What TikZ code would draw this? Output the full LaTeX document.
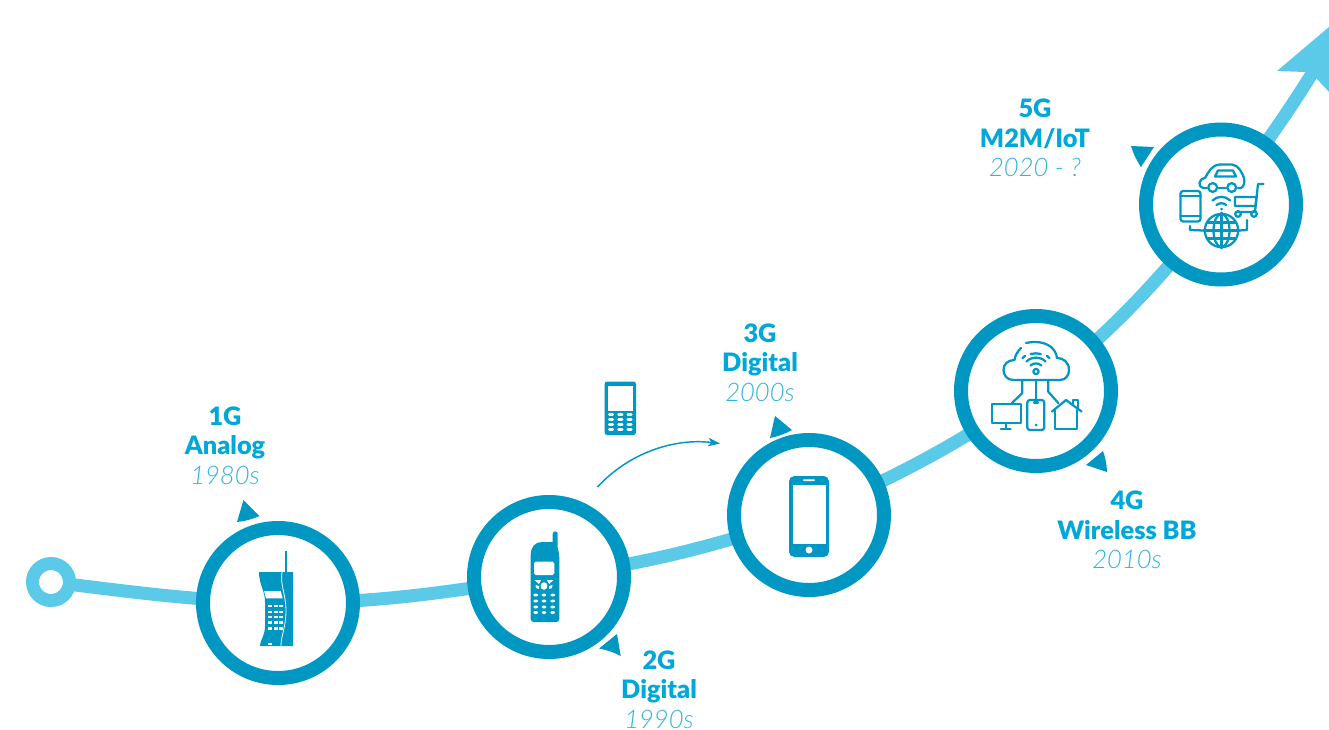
\documentclass[tikz,border=0pt]{standalone}
\usepackage{fontspec}
\setmainfont{Lato}
\newfontfamily\headfont{Lato Black}
\newfontfamily\yearfont{Lato Light Italic}
\usetikzlibrary{arrows.meta,backgrounds}
\definecolor{ringblue}{HTML}{0097C3}
\definecolor{trackblue}{HTML}{5BC9E8}
\definecolor{headblue}{HTML}{00A8DA}
\definecolor{yearblue}{HTML}{2FB4DE}
\tikzset{
	genring/.style = {shape=circle, draw=ringblue, line width=10.5pt, fill=white,
		inner sep=0pt, outer sep=0pt, minimum size=112.5pt},
	track/.style = {draw=trackblue, line width=9.75pt},
	startring/.style = {shape=circle, draw=trackblue, line width=9.75pt, fill=white,
		inner sep=0pt, outer sep=0pt, minimum size=27.75pt},
	genlabel/.style = {align=center, inner sep=0pt, text=headblue,
		font=\fontsize{19}{22}\selectfont\headfont},
	pointer/.style = {fill=ringblue, draw=none},
	icon/.style = {draw=ringblue, line width=1.7pt, line cap=round, line join=round},
	solidicon/.style = {fill=ringblue, draw=none},
	key/.style = {fill=white, draw=none}
}
\newcommand{\yeartext}[1]{{\fontsize{19.2}{22}\yearfont\color{yearblue}#1}}
\begin{document}
\begin{tikzpicture}[x=0.75pt,y=-0.75pt]
	\useasboundingbox (0,0) rectangle (1329,729);
	\node[startring] (gstart) at (51,582) {};
	\node[genring] (gone) at (278,603) {};
	\node[genring] (gtwo) at (549,577) {};
	\node[genring] (gthree) at (809,515) {};
	\node[genring] (gfour) at (1036,391) {};
	\node[genring] (gfive) at (1221,204.5) {};
	\coordinate (tipbase) at (1313,72);
	\begin{scope}[on background layer]
		\draw[track] (gstart.center) to[out=-7,in=178] (gone.center);
		\draw[track] (gone.center) to[out=0,in=188] (gtwo.center);
		\draw[track] (gtwo.center) to[out=8,in=198] (gthree.center);
		\draw[track] (gthree.center) to[out=24,in=214] (gfour.center);
		\draw[track] (gfour.center) to[out=38,in=230] (gfive.center);
		\draw[track] (gfive.center) to[out=54,in=238] (tipbase);
	\end{scope}
	\fill[trackblue] (1277,71) -- (1329,27) -- (1329,92) -- (1317,79) -- (1305,72) -- cycle;
	% labels
	\node[genlabel] (lone) at (225,445.5) {1G\\Analog\\\yeartext{1980s}};
	\node[genlabel] (ltwo) at (659,689.5) {2G\\Digital\\\yeartext{1990s}};
	\node[genlabel] (lthree) at (760,362.5) {3G\\Digital\\\yeartext{2000s}};
	\node[genlabel] (lfour) at (1127,530) {4G\\Wireless BB\\\yeartext{2010s}};
	\node[genlabel] (lfive) at (1035,138) {5G\\M2M/IoT\\\yeartext{2020 - ?}};
	% pointers
	\fill[pointer] (237,522) -- (243.5,500) -- (259.5,516) to[bend left=8] cycle;
	\fill[pointer] (599,648.5) -- (617,634) -- (620.7,656) to[bend right=8] cycle;
	\fill[pointer] (770,438) -- (775,416) -- (792,430) to[bend left=8] cycle;
	\fill[pointer] (1103,451) -- (1086,465) -- (1107,472) to[bend right=8] cycle;
	\fill[pointer] (1131,146) -- (1154,147) -- (1141,167) to[bend left=8] cycle;
	% 1G phone
	\fill[solidicon] (284.6,551) rectangle (287.4,573);
	\fill[solidicon] (259,572) -- (293,572) -- (293,646) -- (260,646)
		.. controls (260,640) and (265,636) .. (265,626) -- (265,602)
		.. controls (265,590) and (259,585) .. (259,572) -- cycle;
	\draw[white,line width=0.6pt] (282,572) .. controls (280,585) and (286,595) .. (286,610)
		.. controls (286,628) and (281,635) .. (281,646);
	\fill[key] (264,591) -- (280.7,591) -- (282.7,598.3) -- (266,598.3) -- cycle;
	\foreach \kx in {270,275.7,281}
		\foreach \ky in {606,611.7,616.7,622.3,628.3}
			\fill[key] (\kx-2,\ky-1.2) rectangle (\kx+2,\ky+1.2);
	\fill[key] (268,643) rectangle (272,645);
	% 2G phone
	\fill[solidicon] (552.7,534) .. controls (552.7,530.5) and (557.7,530.5) .. (557.7,534)
		-- (557.7,548) .. controls (559,552) and (559.3,555) .. (559.3,560)
		-- (559.3,619) .. controls (559.3,621) and (558,622) .. (556,622)
		-- (534,622) .. controls (532,622) and (530.7,621) .. (530.7,619)
		-- (530.7,555) .. controls (530.7,547) and (535,542) .. (542,542) -- (552.7,542) -- cycle;
	\fill[key,rounded corners=1.2pt] (534,561.7) rectangle (554.3,575);
	\fill[key] (544,586) ellipse (3.4 and 3.8);
	\fill[key] (534.5,580) -- (541,580) -- (539,584) -- cycle;
	\fill[key] (553.5,580) -- (547,580) -- (549,584) -- cycle;
	\fill[key] (535.5,585) -- (539,586) -- (539,589) -- (536,588) -- cycle;
	\fill[key] (552.5,585) -- (549,586) -- (549,589) -- (552,588) -- cycle;
	\foreach \kx in {535.7,544,552.7}
		\foreach \ky in {595,601,607,612.5}
			\fill[key] (\kx,\ky) ellipse (2.3 and 1.5);
	% small phone above the thin arrow
	\fill[solidicon,rounded corners=2pt] (604.5,381.5) rectangle (636,435);
	\fill[key] (608,386) rectangle (632.5,411);
	\foreach \kx in {611,620.3,629.5}
		\foreach \ky in {414.5,419.5,424.5,429.5}
			\fill[key,rounded corners=0.8pt] (\kx-3,\ky-1.3) rectangle (\kx+3,\ky+1.3);
	\coordinate (swipefrom) at (597.5,487);
	\coordinate (swipeto) at (720,443.5);
	\draw[ringblue,line width=1.1pt,-{Stealth[length=9pt,width=6.5pt,inset=2.5pt]}] (swipefrom) .. controls (630,452) and (675,438) .. (swipeto);
	% 3G phone
	\fill[solidicon,rounded corners=4pt] (789,476) rectangle (829,557);
	\fill[key] (793,485) rectangle (826,543.5);
	\fill[key,rounded corners=0.6pt] (803,479.3) rectangle (815,481);
	\fill[key] (809,550) circle (3.5);
	% 4G cloud
	\draw[icon] (1013,380) -- (1060,380) .. controls (1066,380) and (1069,375) .. (1069,370)
		.. controls (1069,362) and (1063,358) .. (1057,358)
		.. controls (1056,349) and (1048,342) .. (1035,342) .. controls (1033,342) and (1031,342) .. (1026,343);
	\draw[icon] (1013,380) .. controls (1007,380) and (1003.5,375) .. (1003.5,370)
		.. controls (1003.5,364) and (1008,360) .. (1014.5,360) .. controls (1015,356) and (1017,352) .. (1021,348);
	\coordinate (fourwifi) at (1036,371.5);
	\draw[icon] (fourwifi) circle (2.6);
	\draw[icon] (1030.5,365.5) arc (-132:-48:8.2);
	\draw[icon] (1026.5,361.5) arc (-135:-45:13.5);
	\draw[icon] (1022.5,358) arc (-135:-125:19);
	\draw[icon] (1049.5,358) arc (-45:-55:19);
	\draw[icon] (1030.5,354) arc (-105:-75:20);
	\draw[icon] (1036,380) -- (1036,400);
	\draw[icon] (1022.3,380) -- (1022.3,393) -- (1012,403);
	\draw[icon] (1048.3,380) -- (1048.3,391.7) -- (1058.3,403);
	\draw[icon] (991.7,404) rectangle (1020.7,422.7);
	\draw[icon] (1005.7,422.7) -- (1005.7,428.5) (1001,429) -- (1010.5,429);
	\draw[icon,rounded corners=2pt] (1027.3,400) rectangle (1044.3,430);
	\draw[icon] (1034,402.5) -- (1038,402.5);
	\fill[ringblue] (1036,425) circle (1.5);
	\draw[icon] (1052,411.5) -- (1066,400) -- (1081.5,411.5);
	\draw[icon] (1055,410) -- (1055,429.3) -- (1077.3,429.3) -- (1077.3,410);
	\draw[icon] (1073,403.5) -- (1073,400) -- (1078,400) -- (1078,408);
	% 5G car
	\draw[icon] (1207,188) -- (1203,188) .. controls (1198,187) and (1198,179) .. (1205,178)
		.. controls (1209,171) and (1212,165) .. (1220,164.5) -- (1232,164.5)
		.. controls (1238,165) and (1242,172) .. (1244,178) .. controls (1245,181) and (1244,187) .. (1241,188) -- (1238,188);
	\draw[icon] (1218,188) -- (1226,188);
	\draw[icon] (1212.7,187.5) circle (4.4);
	\draw[icon] (1231.7,187.5) circle (4.4);
	\draw[icon] (1215,176.5) -- (1218,170.5) -- (1233,170.5) -- (1236,176.5) -- cycle;
	\draw[icon,rounded corners=2pt] (1180.5,191) rectangle (1200.5,221.5);
	\draw[icon] (1180.5,196) -- (1200.5,196) (1180.5,216) -- (1200.5,216);
	\coordinate (fivewifi) at (1221.5,209);
	\fill[ringblue] (fivewifi) circle (1.5);
	\draw[icon] (1216.5,205) arc (-130:-50:7.5);
	\draw[icon] (1212.5,200.5) arc (-135:-45:12.5);
	\draw[icon] (1263.5,184) -- (1258,184) -- (1255,212) -- (1238,212);
	\draw[icon] (1235,197) -- (1256.5,197) -- (1255.5,206) -- (1235,206) -- cycle;
	\draw[icon] (1238,214) circle (2.8);
	\draw[icon] (1254,214) circle (2.8);
	\node[draw=ringblue,line width=1.7pt,shape=circle,fill=white,inner sep=0pt,minimum size=25pt] (globe) at (1221.5,230.5) {};
	\draw[icon] (globe.center) ellipse (8 and 16.6);
	\draw[icon] (globe.north) -- (globe.south);
	\draw[icon] (globe.west) -- (globe.east);
	\draw[icon] (1207.5,222.5) -- (1235.5,222.5) (1207.5,238.5) -- (1235.5,238.5);
	\draw[icon] (globe.west) -- (1190,230) -- (1190,226);
	\draw[icon] (globe.east) -- (1247,230) -- (1247,220);
\end{tikzpicture}
\end{document}
